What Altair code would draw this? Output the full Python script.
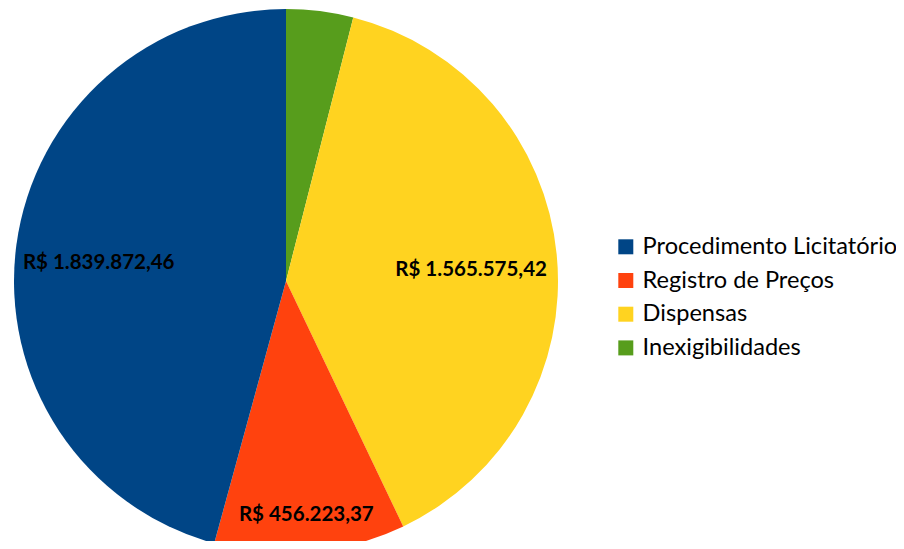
import altair as alt
import pandas as pd

categories = ["Inexigibilidades", "Dispensas", "Registro de Preços", "Procedimento Licitatório"]
values = [160000.00, 1565575.42, 456223.37, 1839872.46]
labels = ["", "R$ 1.565.575,42", "R$ 456.223,37", "R$ 1.839.872,46"]
legend_order = ["Procedimento Licitatório", "Registro de Preços", "Dispensas", "Inexigibilidades"]
legend_colors = ["#004586", "#ff420e", "#ffd320", "#579d1c"]

df = pd.DataFrame({"cat": categories, "val": values, "label": labels, "idx": list(range(len(categories)))})

CX, CY, R = 278, 273, 272

color_scale = alt.Scale(domain=legend_order, range=legend_colors)

pie = alt.Chart(df).mark_arc(outerRadius=R, stroke=None).encode(
    theta=alt.Theta("val:Q", stack=True),
    order=alt.Order("idx:Q", sort="ascending"),
    x=alt.value(CX),
    y=alt.value(CY),
    color=alt.Color(
        "cat:N",
        scale=color_scale,
        sort=legend_order,
        legend=alt.Legend(
            title=None,
            orient="none",
            legendX=606,
            legendY=227,
            symbolType="square",
            symbolSize=225,
            symbolStrokeWidth=0,
            labelFont="Lato",
            labelFontSize=23.6,
            labelColor="#000000",
            labelLimit=0,
            rowPadding=8.7,
            symbolOffset=0,
            labelOffset=5,
        ),
    ),
)

text = (
    alt.Chart(df)
    .transform_joinaggregate(total="sum(val)")
    .transform_window(cum="sum(val)", sort=[alt.SortField("idx", order="ascending")])
    .transform_calculate(
        mid="(datum.cum - datum.val / 2) / datum.total * 2 * PI",
        lr="datum.cat === 'Registro de Preços' ? 228 : (datum.cat === 'Dispensas' ? 186 : 189)",
    )
    .transform_filter("datum.label !== ''")
    .mark_text(font="Lato", fontWeight="bold", fontSize=20.5, color="#000000", dy=7)
    .encode(
        x=alt.value(CX),
        y=alt.value(CY),
        theta=alt.Theta("mid:Q", scale=None, stack=None),
        radius=alt.Radius("lr:Q", scale=None),
        text=alt.Text("label:N"),
    )
)

chart = alt.layer(pie, text).resolve_scale(theta="independent").properties(
    width=888,
    height=533,
    padding=0,
    autosize=alt.AutoSizeParams(type="none"),
).configure_view(stroke=None)

chart.save("out.html", embed_options={"renderer": "svg", "actions": False})
